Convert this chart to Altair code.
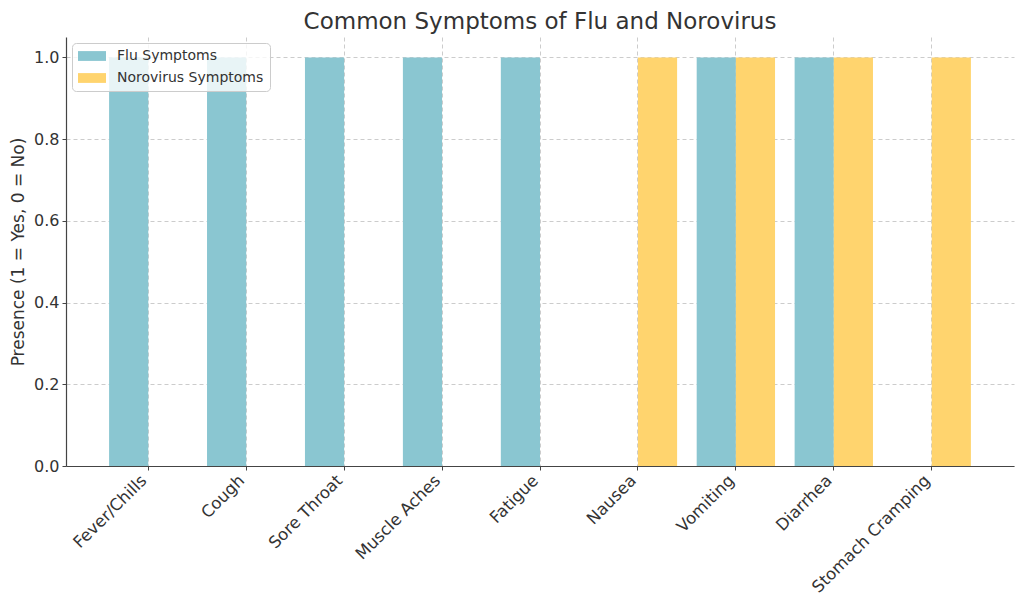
import altair as alt
import pandas as pd

categories = ["Fever/Chills", "Cough", "Sore Throat", "Muscle Aches", "Fatigue",
              "Nausea", "Vomiting", "Diarrhea", "Stomach Cramping"]
flu_values = [1, 1, 1, 1, 1, 0, 1, 1, 0]
noro_values = [0, 0, 0, 0, 0, 1, 1, 1, 1]
series_names = ["Flu Symptoms", "Norovirus Symptoms"]
series_colors = ["#8AC6D1", "#FFD46E"]
y_ticks = [0.0, 0.2, 0.4, 0.6, 0.8, 1.0]

rows = []
for c, f, n in zip(categories, flu_values, noro_values):
    rows.append({"Symptom": c, "Series": series_names[0], "Presence": f})
    rows.append({"Symptom": c, "Series": series_names[1], "Presence": n})
df = pd.DataFrame(rows)

FONT = "DejaVu Sans"
TXT = "#333333"

chart = alt.Chart(df).mark_bar().encode(
    x=alt.X("Symptom:N", sort=categories,
            scale=alt.Scale(paddingInner=0.2, paddingOuter=0.44),
            axis=alt.Axis(title=None, labelAngle=-45, labelAlign="right",
                          labelBaseline="top", labelFontSize=16.5, labelColor=TXT,
                          labelFont=FONT, grid=True, gridDash=[4, 3],
                          gridColor="#cccccc", bandPosition=0.5,
                          domainColor="#444444", tickColor="#444444",
                          tickSize=4, labelPadding=2, labelOffset=-10)),
    xOffset=alt.XOffset("Series:N", sort=series_names,
                        scale=alt.Scale(paddingInner=0, paddingOuter=0)),
    y=alt.Y("Presence:Q", scale=alt.Scale(domain=[0, 1.05], nice=False),
            axis=alt.Axis(title="Presence (1 = Yes, 0 = No)", values=y_ticks,
                          format=".1f", labelFontSize=16, labelColor=TXT,
                          labelFont=FONT, titleFont=FONT, titleFontSize=17,
                          titleFontWeight="normal", titleColor=TXT,
                          grid=True, gridDash=[4, 3], gridColor="#cccccc",
                          domainColor="#444444", tickColor="#444444",
                          tickSize=4, labelPadding=3, titlePadding=6)),
    color=alt.Color("Series:N", sort=series_names,
                    scale=alt.Scale(domain=series_names, range=series_colors),
                    legend=alt.Legend(title=None, orient="top-left", offset=6,
                                      symbolType="M-2,-0.7 h4 v1.4 h-4 Z",
                                      symbolSize=196, symbolStrokeWidth=0,
                                      symbolOffset=7, labelOffset=18,
                                      labelFontSize=14, labelFont=FONT,
                                      labelColor=TXT, fillColor="rgba(255,255,255,0.8)",
                                      strokeColor="#cccccc", cornerRadius=4,
                                      padding=6, rowPadding=8)),
).properties(
    width=948, height=429,
    title=alt.TitleParams("Common Symptoms of Flu and Norovirus", fontSize=23,
                          font=FONT, fontWeight="normal", color=TXT,
                          anchor="middle", offset=3),
    autosize=alt.AutoSizeParams(type="none"),
    padding={"left": 58, "top": 29, "right": 2, "bottom": 135},
).configure_view(stroke=None).configure_axis(domainWidth=1.2)

chart.save("out.html", embed_options={"renderer": "svg", "actions": False})
